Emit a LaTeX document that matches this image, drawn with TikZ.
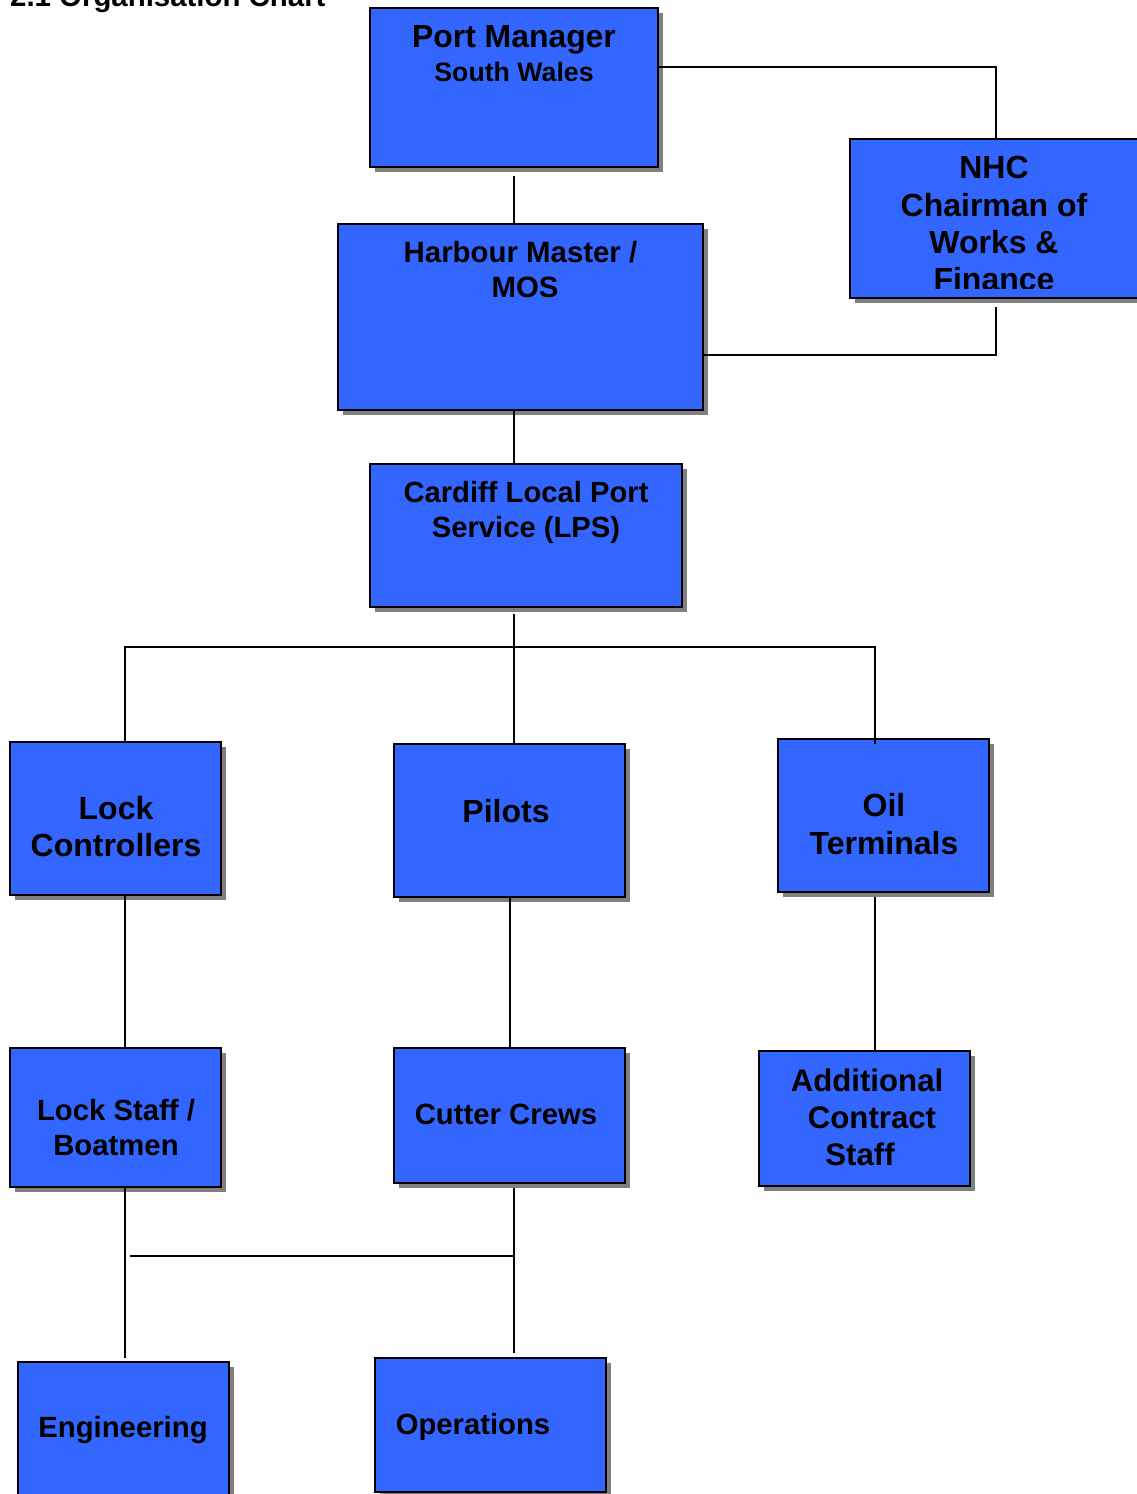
\documentclass[tikz,border=0pt]{standalone}
\usepackage{fontspec}
\setmainfont{Liberation Sans}
\usetikzlibrary{fit,shadows}
\definecolor{boxblue}{RGB}{51,102,255}
\definecolor{shadowgray}{RGB}{128,128,128}
\begin{document}
\begin{tikzpicture}[x=1pt,y=-1pt,
  orgbox/.style={draw=black, line width=1.8pt, fill=boxblue, inner sep=0pt,
    drop shadow={shadow xshift=5pt, shadow yshift=-5pt, fill=shadowgray, opacity=1}},
  link/.style={draw=black, line width=1.6pt},
  txt/.style={anchor=base, inner sep=0pt, font=\fontsize{#1}{#1}\selectfont\bfseries},
]
\useasboundingbox (0,0) rectangle (1136,1494);

% heading
\node[anchor=base west, inner sep=0pt, font=\fontsize{29.4}{29.4}\selectfont\bfseries] (title) at (10,6) {2.1 Organisation Chart};

% boxes
\node[orgbox, fit={(370,8) (658,167)}] (pm) {};
\node[orgbox, fit={(850,139) (1142,298)}] (nhc) {};
\node[orgbox, fit={(338,224) (703,410)}] (hm) {};
\node[orgbox, fit={(370,464) (682,607)}] (lps) {};
\node[orgbox, fit={(10,742) (221,895)}] (lc) {};
\node[orgbox, fit={(394,744) (625,897)}] (pil) {};
\node[orgbox, fit={(778,739) (989,892)}] (oil) {};
\node[orgbox, fit={(10,1048) (221,1187)}] (ls) {};
\node[orgbox, fit={(394,1048) (625,1183)}] (cc) {};
\node[orgbox, fit={(759,1051) (970,1186)}] (acs) {};
\node[orgbox, fit={(18,1362) (229,1502)}] (eng) {};
\node[orgbox, fit={(375,1358) (606,1492)}] (ops) {};

% labels
\node[txt=31.9] (pm1) at (514,47.7) {Port Manager};
\node[txt=26.7] (pm2) at (514,81) {South Wales};

\begin{scope}
  \clip (850,139) rectangle (1136,288);
  \node[txt=32] (nhc1) at (994,178) {NHC};
  \node[txt=32] (nhc2) at (994,216) {Chairman of};
  \node[txt=32] (nhc3) at (994,253) {Works \&};
  \node[txt=32] (nhc4) at (994,290) {Finance};
\end{scope}

\node[txt=29.4] (hm1) at (520.5,262) {Harbour Master /};
\node[txt=29.4] (hm2) at (525,297) {MOS};

\node[txt=29.2] (lps1) at (526,502) {Cardiff Local Port};
\node[txt=29.2] (lps2) at (526,537) {Service (LPS)};

\node[txt=32] (lc1) at (116,819) {Lock};
\node[txt=32] (lc2) at (116,856) {Controllers};

\node[txt=32] (pil1) at (506,822) {Pilots};

\node[txt=32] (oil1) at (884,816) {Oil};
\node[txt=32] (oil2) at (884,854) {Terminals};

\node[txt=29.3] (ls1) at (116,1120) {Lock Staff /};
\node[txt=29.3] (ls2) at (116,1155) {Boatmen};

\node[txt=29.3] (cc1) at (506,1124) {Cutter Crews};

\node[txt=31.2] (acs1) at (867,1091) {Additional};
\node[txt=31.2] (acs2) at (872,1128) {Contract};
\node[txt=31.2] (acs3) at (860,1165) {Staff};

\node[txt=29.3] (eng1) at (123,1437) {Engineering};
\node[txt=29.2] (ops1) at (473,1434) {Operations};

% connectors
\coordinate (bus) at (514,647);
\coordinate (lower) at (514,1256);

\draw[link] (pm.east |- 0,67) -| (nhc.north);
\draw[link] (nhc.north |- 0,307) |- (hm.east |- 0,355);
\draw[link] (pm.south |- 0,176) -- (pm.south |- hm.north);
\draw[link] (pm.south |- hm.south) -- (pm.south |- lps.north);

\draw[link] (bus |- 0,614) -- (bus |- pil.north);
\draw[link] (lc.north -| 125,0) -- (125,647) -- (bus) -- (875,647) -- (875,744);

\draw[link] (lc.south -| 125,0) -- (ls.north -| 125,0);
\draw[link] (pil.south -| 510,0) -- (cc.north -| 510,0);
\draw[link] (875,897) -- (acs.north -| 875,0);

\draw[link] (ls.south -| 125,0) -- (125,1358);
\draw[link] (lower |- 0,1188) -- (lower |- 0,1353);
\draw[link] (130,1256) -- (lower);
\end{tikzpicture}
\end{document}
